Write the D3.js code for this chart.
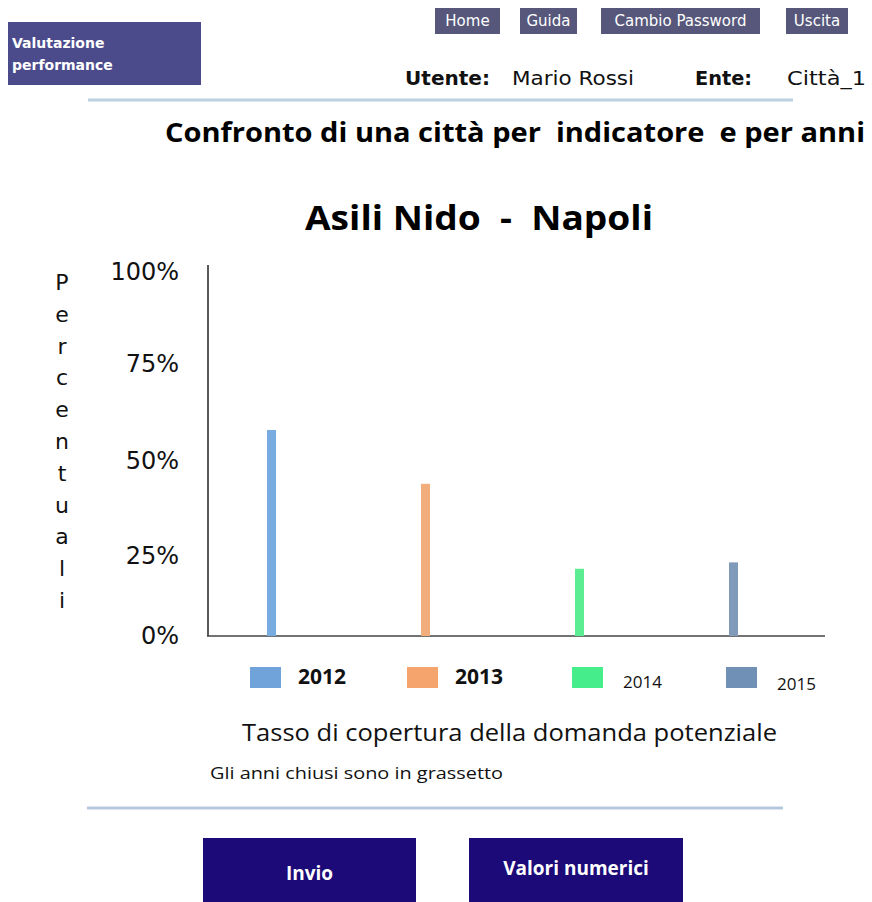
<!DOCTYPE html>
<html>
<head>
<meta charset="utf-8">
<script src="https://cdn.jsdelivr.net/npm/d3@7"></script>
<style>
  body { margin: 0; background: #fff; }
  svg { display: block; }
  text { white-space: pre; }
</style>
</head>
<body>
<svg id="chart" width="872" height="902"></svg>
<script>
// values
var years = ["2012", "2013", "2014", "2015"];
var values = [58, 44, 21, 23];          // percent
var closedYears = ["2012", "2013"];     // shown in bold
var barColors = ["#78abdf", "#f2ad7c", "#5cec92", "#7f9bb9"];
var swatchColors = ["#6fa3da", "#f4a46c", "#45ee8a", "#7090b6"];
var tickValues = [0, 25, 50, 75, 100];
var navItems = ["Home", "Guida", "Cambio Password", "Uscita"];
var yLabel = "Percentuali";

var svg = d3.select("#chart");
var titleFont = "'Open Sans', 'Noto Sans', sans-serif";
var axisFont = "'DejaVu Sans', Verdana, sans-serif";

// ---- header ----
svg.append("rect").attr("x", 8).attr("y", 22).attr("width", 193).attr("height", 63).attr("fill", "#4b4b8c");
svg.append("text").attr("x", 12).attr("y", 48).attr("fill", "#fff")
    .style("font", "bold 14px " + axisFont).text("Valutazione");
svg.append("text").attr("x", 12).attr("y", 70).attr("fill", "#fff")
    .style("font", "bold 14px " + axisFont).text("performance");

var navBoxes = [[435, 65], [520, 57], [601, 159], [786, 62]];
svg.selectAll("g.nav").data(navItems).enter().append("g").attr("class", "nav")
    .each(function (d, i) {
        var g = d3.select(this);
        g.append("rect").attr("x", navBoxes[i][0]).attr("y", 8).attr("width", navBoxes[i][1]).attr("height", 26).attr("fill", "#56577b");
        g.append("text").attr("x", navBoxes[i][0] + navBoxes[i][1] / 2).attr("y", 26)
            .attr("text-anchor", "middle").attr("fill", "#fff")
            .style("font", "15px " + axisFont).text(d);
    });

// user line: [text, x, width, bold]
var userLine = [["Utente:", 405, 85, true], ["Mario Rossi", 512, 122, false], ["Ente:", 695, 57, true], ["Città_1", 787, 79, false]];
svg.selectAll("text.user").data(userLine).enter().append("text").attr("class", "user")
    .attr("x", function (d) { return d[1]; }).attr("y", 85)
    .attr("textLength", function (d) { return d[2]; }).attr("lengthAdjust", "spacingAndGlyphs")
    .style("font", function (d) { return (d[3] ? "bold " : "") + "20px " + axisFont; })
    .attr("fill", "#111").text(function (d) { return d[0]; });

svg.append("line").attr("x1", 88).attr("x2", 793).attr("y1", 100).attr("y2", 100)
    .attr("stroke", "#bcd0e2").attr("stroke-width", 3);

// ---- titles ----
svg.append("text").attr("x", 165).attr("y", 142)
    .attr("textLength", 700).attr("lengthAdjust", "spacingAndGlyphs")
    .style("font", "bold 26px " + titleFont).attr("fill", "#000")
    .text("Confronto di una città per  indicatore  e per anni");
svg.append("text").attr("x", 305).attr("y", 230)
    .attr("textLength", 348).attr("lengthAdjust", "spacingAndGlyphs")
    .style("font", "bold 34px " + titleFont).attr("fill", "#000")
    .text("Asili Nido  -  Napoli");

// ---- scales ----
var x = d3.scalePoint().domain(years).range([271.5, 733.5]);
var y = d3.scaleLinear().domain(tickValues).range([636, 556, 461, 364, 272]);
var barW = 9;

// y axis
var yAxis = d3.axisLeft(y).tickValues(tickValues).tickSize(0).tickPadding(0)
    .tickFormat(function (d) { return d + "%"; });
var ag = svg.append("g").attr("transform", "translate(179,0)").call(yAxis);
ag.select(".domain").remove();
ag.selectAll("text").style("font", "24px " + axisFont).attr("fill", "#111");

svg.append("line").attr("x1", 208).attr("x2", 208).attr("y1", 265).attr("y2", 636)
    .attr("stroke", "#222").attr("stroke-width", 1.5);
svg.append("line").attr("x1", 207).attr("x2", 825).attr("y1", 636).attr("y2", 636)
    .attr("stroke", "#444").attr("stroke-width", 1.5);

// vertical y label
svg.append("g").selectAll("text").data(yLabel.split("")).enter().append("text")
    .attr("x", 62).attr("y", function (d, i) { return 290 + i * 31.8; })
    .attr("text-anchor", "middle").style("font", "22px " + axisFont).attr("fill", "#111")
    .text(function (d) { return d; });

// bars
svg.append("g").selectAll("rect").data(values).enter().append("rect")
    .attr("x", function (d, i) { return x(years[i]) - barW / 2; })
    .attr("y", function (d) { return y(d); })
    .attr("width", barW)
    .attr("height", function (d) { return y(0) - y(d); })
    .attr("fill", function (d, i) { return barColors[i]; });

// legend
var legX = [250, 407, 572, 726];
var lg = svg.append("g").selectAll("g").data(years).enter().append("g");
lg.append("rect").attr("x", function (d, i) { return legX[i]; }).attr("y", 667)
    .attr("width", 31).attr("height", 21).attr("fill", function (d, i) { return swatchColors[i]; });
lg.append("text")
    .attr("x", function (d, i) { return legX[i] + (closedYears.indexOf(d) >= 0 ? 48 : 51); })
    .attr("y", function (d, i) { return closedYears.indexOf(d) >= 0 ? 684 : 688 + (i - 2) * 2; })
    .style("font", function (d) { return closedYears.indexOf(d) >= 0 ? "bold 21px " + titleFont : "17px " + titleFont; })
    .attr("fill", "#111")
    .text(function (d) { return d; });

svg.append("text").attr("x", 242).attr("y", 741)
    .attr("textLength", 535).attr("lengthAdjust", "spacingAndGlyphs")
    .style("font", "24px " + titleFont).attr("fill", "#111")
    .text("Tasso di copertura della domanda potenziale");
svg.append("text").attr("x", 210).attr("y", 779)
    .attr("textLength", 293).attr("lengthAdjust", "spacingAndGlyphs")
    .style("font", "16px " + titleFont).attr("fill", "#111")
    .text("Gli anni chiusi sono in grassetto");

svg.append("line").attr("x1", 87).attr("x2", 783).attr("y1", 808).attr("y2", 808)
    .attr("stroke", "#b5c7dd").attr("stroke-width", 3);

// buttons
var buttons = [{label: "Invio", x: 203, w: 213, ty: 880}, {label: "Valori numerici", x: 469, w: 214, ty: 875}];
var bg = svg.selectAll("g.btn").data(buttons).enter().append("g").attr("class", "btn");
bg.append("rect").attr("x", function (d) { return d.x; }).attr("y", 838)
    .attr("width", function (d) { return d.w; }).attr("height", 64).attr("fill", "#1c0a78");
bg.append("text").attr("x", function (d) { return d.x + d.w / 2; }).attr("y", function (d) { return d.ty; })
    .attr("text-anchor", "middle").attr("fill", "#fff")
    .style("font", "bold 19px " + titleFont)
    .text(function (d) { return d.label; });
</script>
</body>
</html>
